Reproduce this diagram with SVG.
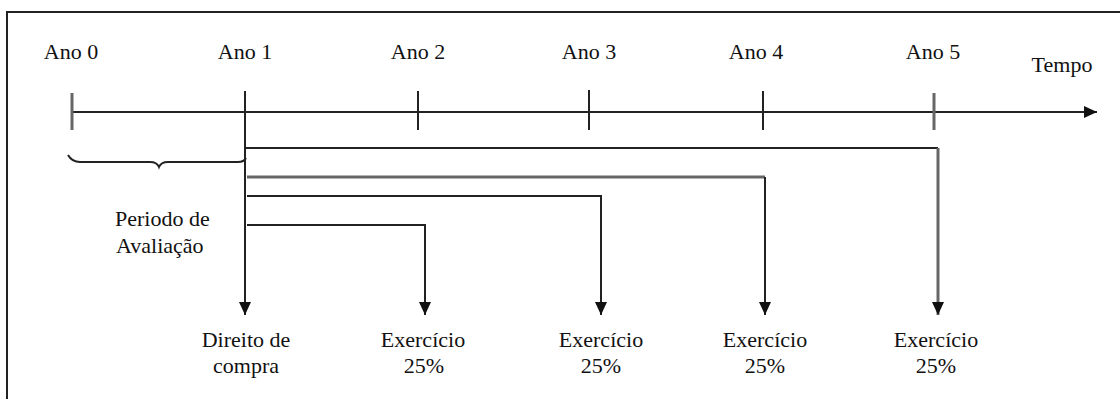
<svg xmlns="http://www.w3.org/2000/svg" width="1120" height="399" viewBox="0 0 1120 399">
<style>
text{font-family:"Liberation Serif","DejaVu Serif","Times New Roman",serif;font-size:22px;fill:#111}
.c{text-anchor:middle}
.k{stroke:#222;stroke-width:2;fill:none}
.g{stroke:#666;stroke-width:3;fill:none}
</style>
<defs>
<marker id="ah" markerUnits="userSpaceOnUse" markerWidth="14" markerHeight="12" refX="13" refY="6" orient="auto" viewBox="0 0 14 12">
<path d="M0,0 L13,6 L0,12 z" fill="#111"/>
</marker>
</defs>
<rect x="0" y="0" width="1120" height="399" fill="#fff"/>
<g id="frame">
<path d="M7,399 V12 H1120" stroke="#222" stroke-width="2" fill="none"/>
</g>
<g id="labels">
<text class="c" x="71" y="59">Ano 0</text>
<text class="c" x="245" y="59">Ano 1</text>
<text class="c" x="418" y="59">Ano 2</text>
<text class="c" x="589" y="59">Ano 3</text>
<text class="c" x="756" y="59">Ano 4</text>
<text class="c" x="933" y="59">Ano 5</text>
<text class="c" x="1062" y="72">Tempo</text>
</g>
<g id="connectors">
<path class="k" d="M73,112 H1097" marker-end="url(#ah)"/>
<path class="g" d="M72,93 V130"/>
<path class="k" d="M418,91 V130"/>
<path class="k" d="M589,90 V130"/>
<path class="k" d="M763,91 V130"/>
<path class="g" d="M934,93 V130"/>
<path class="k" d="M68,155 Q72,162 80,162 L150,162 Q157,162 159,167 Q161,162 168,162 L238,162 Q244,162 246,158"/>
<path class="k" d="M245,91 V315" marker-end="url(#ah)"/>
<path class="k" stroke-width="3" d="M245,148 V225"/>
<path class="k" d="M245,148 H938"/>
<path class="g" d="M938,148 V315" marker-end="url(#ah)"/>
<path class="g" d="M247,177 H765"/>
<path class="k" d="M765,177 V315" marker-end="url(#ah)"/>
<path class="k" d="M247,196 H601 V315" marker-end="url(#ah)"/>
<path class="k" d="M247,225 H425 V315" marker-end="url(#ah)"/>
</g>
<g id="periodo">
<text x="115" y="226">Periodo de</text>
<text x="116" y="253">Avaliação</text>
</g>
<g id="direito">
<text class="c" x="246" y="347">Direito de</text>
<text class="c" x="246" y="373">compra</text>
</g>
<g id="ex1">
<text class="c" x="423" y="347">Exercício</text>
<text class="c" x="424" y="373">25%</text>
</g>
<g id="ex2">
<text class="c" x="601" y="347">Exercício</text>
<text class="c" x="601" y="373">25%</text>
</g>
<g id="ex3">
<text class="c" x="765" y="347">Exercício</text>
<text class="c" x="765" y="373">25%</text>
</g>
<g id="ex4">
<text class="c" x="936" y="347">Exercício</text>
<text class="c" x="936" y="373">25%</text>
</g>
</svg>
